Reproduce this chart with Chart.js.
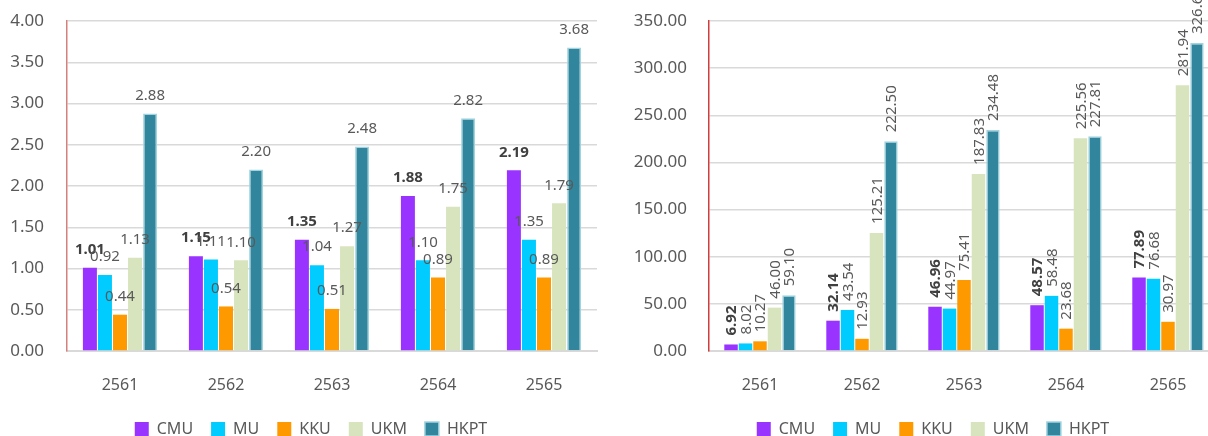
<!DOCTYPE html>
<html>
<head>
<meta charset="utf-8">
<script src="https://cdn.jsdelivr.net/npm/chart.js@4.4.0/dist/chart.umd.min.js"></script>
<style>
  html, body { margin: 0; padding: 0; background: #fff; }
  body { width: 1208px; height: 436px; overflow: hidden; position: relative; }
  #leftChart { position: absolute; left: 0; top: 0; }
  #rightChart { position: absolute; left: 610px; top: 0; }
</style>
</head>
<body>
<canvas id="leftChart" width="622" height="436"></canvas>
<canvas id="rightChart" width="640" height="436"></canvas>
<script>
// Categories and series
const years = ['2561', '2562', '2563', '2564', '2565'];
const seriesNames = ['CMU', 'MU', 'KKU', 'UKM', 'HKPT'];

// Left chart values
const leftCMU  = [1.01, 1.15, 1.35, 1.88, 2.19];
const leftMU   = [0.92, 1.11, 1.04, 1.10, 1.35];
const leftKKU  = [0.44, 0.54, 0.51, 0.89, 0.89];
const leftUKM  = [1.13, 1.10, 1.27, 1.75, 1.79];
const leftHKPT = [2.88, 2.20, 2.48, 2.82, 3.68];

// Right chart values
const rightCMU  = [6.92, 32.14, 46.96, 48.57, 77.89];
const rightMU   = [8.02, 43.54, 44.97, 58.48, 76.68];
const rightKKU  = [10.27, 12.93, 75.41, 23.68, 30.97];
const rightUKM  = [46.00, 125.21, 187.83, 225.56, 281.94];
const rightHKPT = [59.10, 222.50, 234.48, 227.81, 326.61];

// Y axis ranges (tick labels every step)
const leftAxis  = { max: 4, step: 0.5 };
const rightAxis = { max: 350, step: 50 };

const FONT = '"Noto Sans", "Open Sans", sans-serif';
const fillColors   = ['#9933ff', '#00ccff', '#ff9900', '#d7e4bd', '#31859c'];
const borderColors = ['#9933ff', '#00ccff', '#ff9900', '#d7e4bd', '#a2d4e0'];

// Value labels above bars (horizontal on the left chart, vertical on the right)
const barLabels = {
    id: 'barLabels',
    afterLayout(chart) {
        // let the y tick labels run past the axis box (layout padding is used to centre the legend)
        chart.scales.y._computeLabelArea = () => undefined;
    },
    afterDatasetsDraw(chart, args, opts) {
        const ctx = chart.ctx;
        chart.data.datasets.forEach((ds, i) => {
            const meta = chart.getDatasetMeta(i);
            if (meta.hidden) return;
            meta.data.forEach((bar, j) => {
                ctx.save();
                ctx.font = (i === 0 ? 'bold ' : '') + '15px ' + FONT;
                ctx.fillStyle = i === 0 ? '#404040' : '#595959';
                ctx.textBaseline = 'middle';
                if (opts.rotate) {
                    ctx.translate(bar.x + 1, bar.y - opts.offset);
                    ctx.rotate(-Math.PI / 2);
                    ctx.textAlign = 'left';
                } else {
                    ctx.translate(bar.x, bar.y - opts.offset);
                    ctx.textAlign = 'center';
                }
                ctx.fillText(ds.data[j].toFixed(2), 0, 0);
                ctx.restore();
            });
        });
    }
};

function buildDatasets(values) {
    return values.map((vals, i) => ({
        label: seriesNames[i],
        data: vals,
        backgroundColor: fillColors[i],
        borderColor: borderColors[i],
        borderWidth: i === 4 ? 1.5 : 0,
        barPercentage: 0.93,
        categoryPercentage: 0.71
    }));
}

function makeChart(id, values, axis, cfg) {
    return new Chart(document.getElementById(id), {
        type: 'bar',
        data: { labels: years, datasets: buildDatasets(values) },
        plugins: [barLabels],
        options: {
            responsive: false,
            animation: false,
            layout: { padding: { top: 21, left: cfg.padLeft, right: cfg.padRight, bottom: 0 } },
            plugins: {
                legend: {
                    position: 'bottom',
                    maxHeight: 33,
                    labels: {
                        boxWidth: 14,
                        boxHeight: 14,
                        padding: 18,
                        color: '#595959',
                        font: { family: FONT, size: 16 }
                    }
                },
                tooltip: { enabled: false },
                barLabels: { rotate: cfg.rotate, offset: cfg.labelOffset }
            },
            scales: {
                x: {
                    grid: { display: false, drawTicks: false },
                    border: { color: '#d9d9d9', width: 2 },
                    ticks: { color: '#595959', padding: 25, font: { family: FONT, size: 16 } },
                    afterFit(scale) { scale.height = 52; }
                },
                y: {
                    min: 0,
                    max: axis.max,
                    // invisible tick marks give the gap between labels and axis
                    grid: {
                        color: '#d9d9d9', lineWidth: 1.5,
                        drawTicks: true, tickLength: cfg.tickGap, tickColor: 'rgba(0,0,0,0)'
                    },
                    border: { color: cfg.axisColor, width: 1.5 },
                    ticks: {
                        stepSize: axis.step,
                        color: '#595959',
                        padding: 0,
                        font: { family: FONT, size: 17 },
                        callback: v => Number(v).toFixed(2)
                    },
                    afterFit(scale) { scale.width = cfg.axisWidth; }
                }
            }
        }
    });
}

makeChart('leftChart', [leftCMU, leftMU, leftKKU, leftUKM, leftHKPT], leftAxis, {
    padLeft: 25, padRight: 25, axisWidth: 42, tickGap: 23,
    axisColor: '#d4817e', rotate: false, labelOffset: 18
});

makeChart('rightChart', [rightCMU, rightMU, rightKKU, rightUKM, rightHKPT], rightAxis, {
    padLeft: 37, padRight: 31, axisWidth: 62, tickGap: 22,
    axisColor: '#d23c3c', rotate: true, labelOffset: 9
});
</script>
</body>
</html>
